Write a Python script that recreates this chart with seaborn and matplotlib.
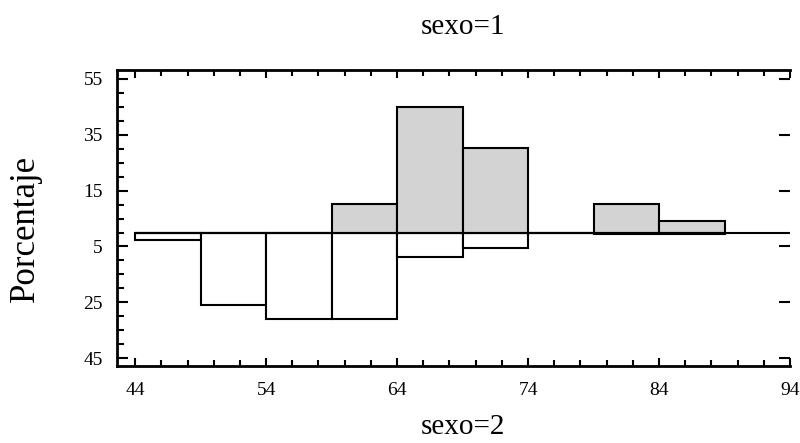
"""Back-to-back histogram: edad por sexo."""
import matplotlib
matplotlib.use("Agg")
import matplotlib.pyplot as plt
import numpy as np
import seaborn as sns
from matplotlib.ticker import FixedLocator, MultipleLocator, FuncFormatter

sns.set_theme(style="white")
plt.rcParams["font.family"] = ["Liberation Serif", "DejaVu Serif"]

bin_edges = [44, 49, 54, 59, 64, 69, 74, 79, 84, 89]
bin_starts = [44, 49, 54, 59, 64, 69, 74, 79, 84]
pct_sexo1 = [0.0, 0.0, 0.0, 10.1, 45.1, 30.3, 0.0, 10.1, 4.2]
pct_sexo2 = [2.8, 25.9, 30.9, 30.9, 8.7, 5.7, 0.0, 0.6, 0.6]

fig = plt.figure(figsize=(8, 4.43), dpi=100)
ax = fig.add_axes([0.146, 0.1745, 0.8415, 0.6675])

mids = np.array(bin_starts) + 2.5
# sexo=2 goes downward
sns.histplot(x=mids, weights=-np.array(pct_sexo2), bins=bin_edges, ax=ax,
             color="white", edgecolor="black", linewidth=1.5, alpha=1)
keep = np.array(pct_sexo1) > 0
sns.histplot(x=mids[keep], weights=np.array(pct_sexo1)[keep], bins=bin_edges, ax=ax,
             color="#d3d3d3", edgecolor="black", linewidth=1.5, alpha=1)
ax.plot([44, 94], [0, 0], color="black", lw=1.5, zorder=5)

ax.set_xlim(42.6, 94)
ax.set_ylim(-47.7, 58.2)
ax.set_xticks([44, 54, 64, 74, 84, 94])
ax.xaxis.set_minor_locator(MultipleLocator(2))
ax.yaxis.set_major_locator(FixedLocator([55, 35, 15, -5, -25, -45]))
ax.yaxis.set_minor_locator(MultipleLocator(5))
ax.yaxis.set_major_formatter(FuncFormatter(lambda v, p: f"{abs(v):.0f}"))

for side in ["left", "top", "bottom"]:
    ax.spines[side].set_linewidth(2)
    ax.spines[side].set_color("black")
ax.spines["right"].set_visible(False)

ax.tick_params(axis="x", which="both", direction="in", top=True, bottom=True,
               labelsize=14, pad=12, color="black", labelcolor="black", width=1.5)
ax.tick_params(axis="x", which="major", length=6)
ax.tick_params(axis="x", which="minor", length=4)
ax.tick_params(axis="y", which="both", direction="in", left=True,
               labelsize=14, pad=10, color="black", labelcolor="black", width=1.5)
ax.tick_params(axis="y", which="major", length=8)
ax.tick_params(axis="y", which="minor", length=5)
ax.tick_params(axis="y", which="major", right=True)
ax.tick_params(axis="y", which="minor", right=False)

ax.set_xlabel("")
ax.set_ylabel("")
fig.text(0.032, 0.485, "Porcentaje", rotation=90, ha="center", va="center",
         fontsize=25, color="black")
fig.text(0.579, 0.939, "sexo=1", ha="center", va="center", fontsize=21, color="black")
fig.text(0.579, 0.036, "sexo=2", ha="center", va="center", fontsize=21, color="black")

fig.savefig("out.png", dpi=100)
